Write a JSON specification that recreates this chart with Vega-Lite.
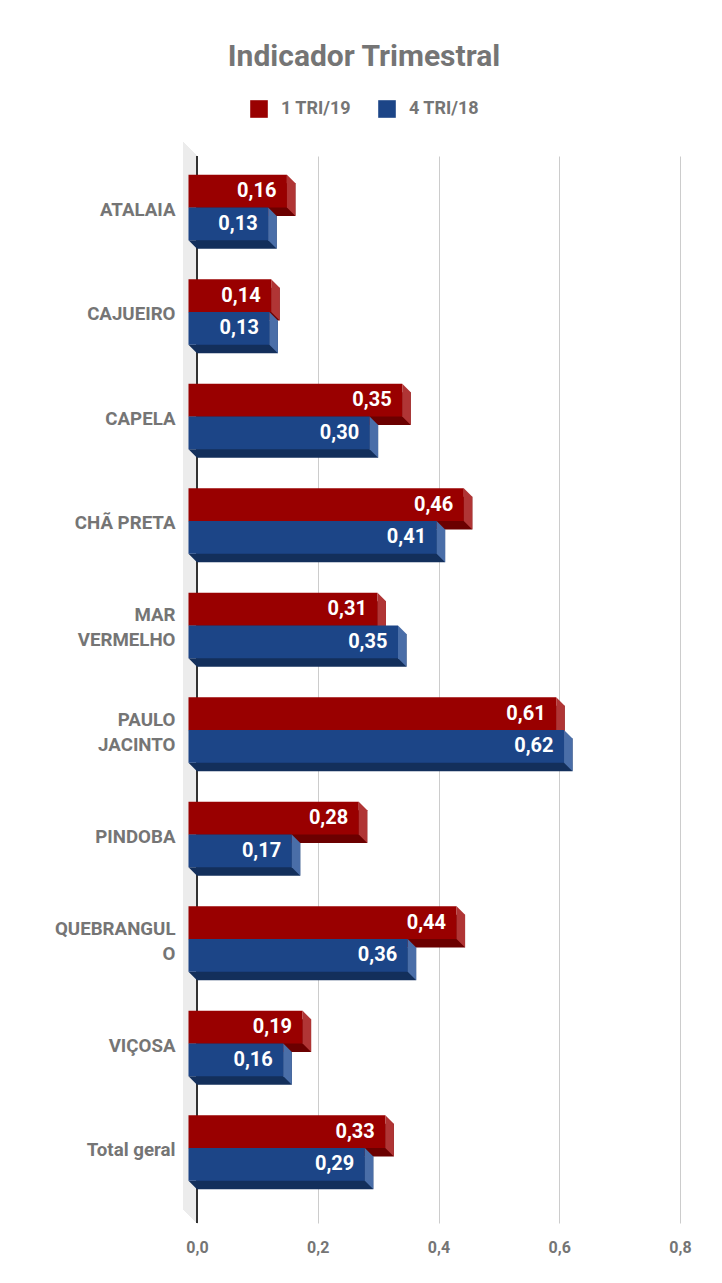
{
  "$schema": "https://vega.github.io/schema/vega-lite/v6.json",
  "width": 483,
  "height": 1067,
  "autosize": {"type": "none"},
  "padding": {"left": 197, "top": 156, "right": 42, "bottom": 60},
  "background": "#ffffff",
  "title": {
    "text": "Indicador Trimestral",
    "font": "Roboto",
    "fontSize": 30,
    "fontWeight": "bold",
    "color": "#757575",
    "anchor": "middle",
    "frame": "group",
    "dx": -74.5,
    "offset": 28
  },
  "config": {
    "view": {"stroke": null},
    "locale": {"number": {"decimal": ",", "thousands": ".", "grouping": [3], "currency": ["R$", ""]}},
    "font": "Roboto"
  },
  "data": {
    "values": [
      {"municipio": "ATALAIA", "serie": "1 TRI/19", "valor": 0.163},
      {"municipio": "ATALAIA", "serie": "4 TRI/18", "valor": 0.132},
      {"municipio": "CAJUEIRO", "serie": "1 TRI/19", "valor": 0.137},
      {"municipio": "CAJUEIRO", "serie": "4 TRI/18", "valor": 0.134},
      {"municipio": "CAPELA", "serie": "1 TRI/19", "valor": 0.354},
      {"municipio": "CAPELA", "serie": "4 TRI/18", "valor": 0.300},
      {"municipio": "CHÃ PRETA", "serie": "1 TRI/19", "valor": 0.456},
      {"municipio": "CHÃ PRETA", "serie": "4 TRI/18", "valor": 0.411},
      {"municipio": "MAR VERMELHO", "serie": "1 TRI/19", "valor": 0.313},
      {"municipio": "MAR VERMELHO", "serie": "4 TRI/18", "valor": 0.347},
      {"municipio": "PAULO JACINTO", "serie": "1 TRI/19", "valor": 0.609},
      {"municipio": "PAULO JACINTO", "serie": "4 TRI/18", "valor": 0.622},
      {"municipio": "PINDOBA", "serie": "1 TRI/19", "valor": 0.282},
      {"municipio": "PINDOBA", "serie": "4 TRI/18", "valor": 0.171},
      {"municipio": "QUEBRANGULO", "serie": "1 TRI/19", "valor": 0.444},
      {"municipio": "QUEBRANGULO", "serie": "4 TRI/18", "valor": 0.363},
      {"municipio": "VIÇOSA", "serie": "1 TRI/19", "valor": 0.189},
      {"municipio": "VIÇOSA", "serie": "4 TRI/18", "valor": 0.157},
      {"municipio": "Total geral", "serie": "1 TRI/19", "valor": 0.326},
      {"municipio": "Total geral", "serie": "4 TRI/18", "valor": 0.292}
    ]
  },
  "encoding": {
    "y": {
      "field": "municipio",
      "type": "nominal",
      "sort": null,
      "title": null,
      "scale": {"paddingInner": 0, "paddingOuter": 0.1053, "align": 0.352},
      "axis": {
        "ticks": false,
        "domain": false,
        "labelPadding": 22,
        "labelOffset": {"condition": {"test": "indexof(['MAR VERMELHO', 'PAULO JACINTO', 'QUEBRANGULO'], datum.value) >= 0", "value": -18.5}, "value": -6},
        "labelFont": "Roboto",
        "labelFontSize": 18.7,
        "labelFontWeight": "bold",
        "labelColor": "#757575",
        "labelLimit": 200,
        "labelLineHeight": 25,
        "labelExpr": "datum.label == 'MAR VERMELHO' ? ['MAR', 'VERMELHO'] : datum.label == 'PAULO JACINTO' ? ['PAULO', 'JACINTO'] : datum.label == 'QUEBRANGULO' ? ['QUEBRANGUL', 'O'] : datum.label"
      }
    }
  },
  "layer": [
    {
      "mark": {"type": "point", "shape": "M-0.012727,-0.982727L0.012727,-0.957273L0.012727,0.982727L-0.012727,0.957273Z", "size": 1210000, "filled": true, "opacity": 1, "color": "#ececec", "strokeWidth": 0, "xOffset": -7, "yOffset": -7},
      "encoding": {
        "x": {
          "datum": 0,
          "type": "quantitative",
          "scale": {"domain": [0, 0.8], "nice": false, "zero": true},
          "axis": {
            "values": [0, 0.2, 0.4, 0.6, 0.8],
            "format": ".1f",
            "title": null,
            "domain": false,
            "ticks": false,
            "grid": true,
            "gridColor": "#cccccc",
            "gridWidth": 1,
            "labelFlush": false,
            "labelPadding": 16,
            "labelFont": "Roboto",
            "labelFontSize": 16,
            "labelFontWeight": "bold",
            "labelColor": "#757575"
          }
        },
        "y": null
      }
    },
    {
      "mark": {"type": "rule", "color": "#333333", "strokeWidth": 1.5},
      "encoding": {"x": {"datum": 0, "type": "quantitative"}, "y": null}
    },
    {
      "transform": [{"filter": "datum.serie == '1 TRI/19'"}],
      "layer": [
        {"mark": {"type": "bar", "height": 32.7, "yOffset": -16.35, "color": "#6b0000"}, "encoding": {"x": {"field": "valor", "type": "quantitative"}}},
        {"mark": {"type": "point", "shape": "M-0.85,-0.85L0.85,-0.85L0.85,0.85Z", "size": 100, "filled": true, "opacity": 1, "strokeWidth": 0, "color": "#6b0000", "xOffset": -4.25, "yOffset": -4.25}, "encoding": {"x": {"datum": 0, "type": "quantitative"}}},
        {"mark": {"type": "bar", "height": 32.7, "yOffset": -24.85, "xOffset": -8.5, "x2Offset": -8.5, "color": "#990000"}, "encoding": {"x": {"field": "valor", "type": "quantitative"}, "color": {"field": "serie", "type": "nominal", "scale": {"domain": ["1 TRI/19", "4 TRI/18"], "range": ["#990000", "#1c4587"]}, "legend": {"title": null, "orient": "none", "legendX": 53, "legendY": -56, "direction": "horizontal", "symbolType": "square", "symbolSize": 310, "symbolStrokeWidth": 0, "symbolOpacity": 1, "labelFont": "Roboto", "labelFontSize": 18, "labelFontWeight": "bold", "labelColor": "#757575", "labelOffset": 13, "columnPadding": 26, "padding": 0}}}},
        {"mark": {"type": "point", "shape": "M-0.17,-0.824L0.17,-0.484L0.17,0.824L-0.17,0.484Z", "size": 2500, "filled": true, "opacity": 1, "strokeWidth": 0, "color": "#b03535", "xOffset": -4.25, "yOffset": -20.6}, "encoding": {"x": {"field": "valor", "type": "quantitative"}}}
      ]
    },
    {
      "transform": [{"filter": "datum.serie == '4 TRI/18'"}],
      "layer": [
        {"mark": {"type": "bar", "height": 32.7, "yOffset": 16.35, "color": "#132f5b"}, "encoding": {"x": {"field": "valor", "type": "quantitative"}}},
        {"mark": {"type": "point", "shape": "M-0.85,-0.85L0.85,-0.85L0.85,0.85Z", "size": 100, "filled": true, "opacity": 1, "strokeWidth": 0, "color": "#132f5b", "xOffset": -4.25, "yOffset": 28.45}, "encoding": {"x": {"datum": 0, "type": "quantitative"}}},
        {"mark": {"type": "bar", "height": 32.7, "yOffset": 7.85, "xOffset": -8.5, "x2Offset": -8.5, "color": "#1c4587"}, "encoding": {"x": {"field": "valor", "type": "quantitative"}, "color": {"field": "serie", "type": "nominal"}}},
        {"mark": {"type": "point", "shape": "M-0.17,-0.824L0.17,-0.484L0.17,0.824L-0.17,0.484Z", "size": 2500, "filled": true, "opacity": 1, "strokeWidth": 0, "color": "#4a6ea8", "xOffset": -4.25, "yOffset": 12.1}, "encoding": {"x": {"field": "valor", "type": "quantitative"}}}
      ]
    },
    {
      "transform": [{"filter": "datum.serie == '1 TRI/19'"}],
      "mark": {"type": "text", "align": "right", "baseline": "middle", "dx": -19, "dy": -24.85, "font": "Roboto", "fontSize": 20, "fontWeight": "bold", "color": "#ffffff"},
      "encoding": {
        "x": {"field": "valor", "type": "quantitative"},
        "text": {"field": "valor", "type": "quantitative", "format": ".2f"}
      }
    },
    {
      "transform": [{"filter": "datum.serie == '4 TRI/18'"}],
      "mark": {"type": "text", "align": "right", "baseline": "middle", "dx": -19, "dy": 7.85, "font": "Roboto", "fontSize": 20, "fontWeight": "bold", "color": "#ffffff"},
      "encoding": {
        "x": {"field": "valor", "type": "quantitative"},
        "text": {"field": "valor", "type": "quantitative", "format": ".2f"}
      }
    }
  ]
}
